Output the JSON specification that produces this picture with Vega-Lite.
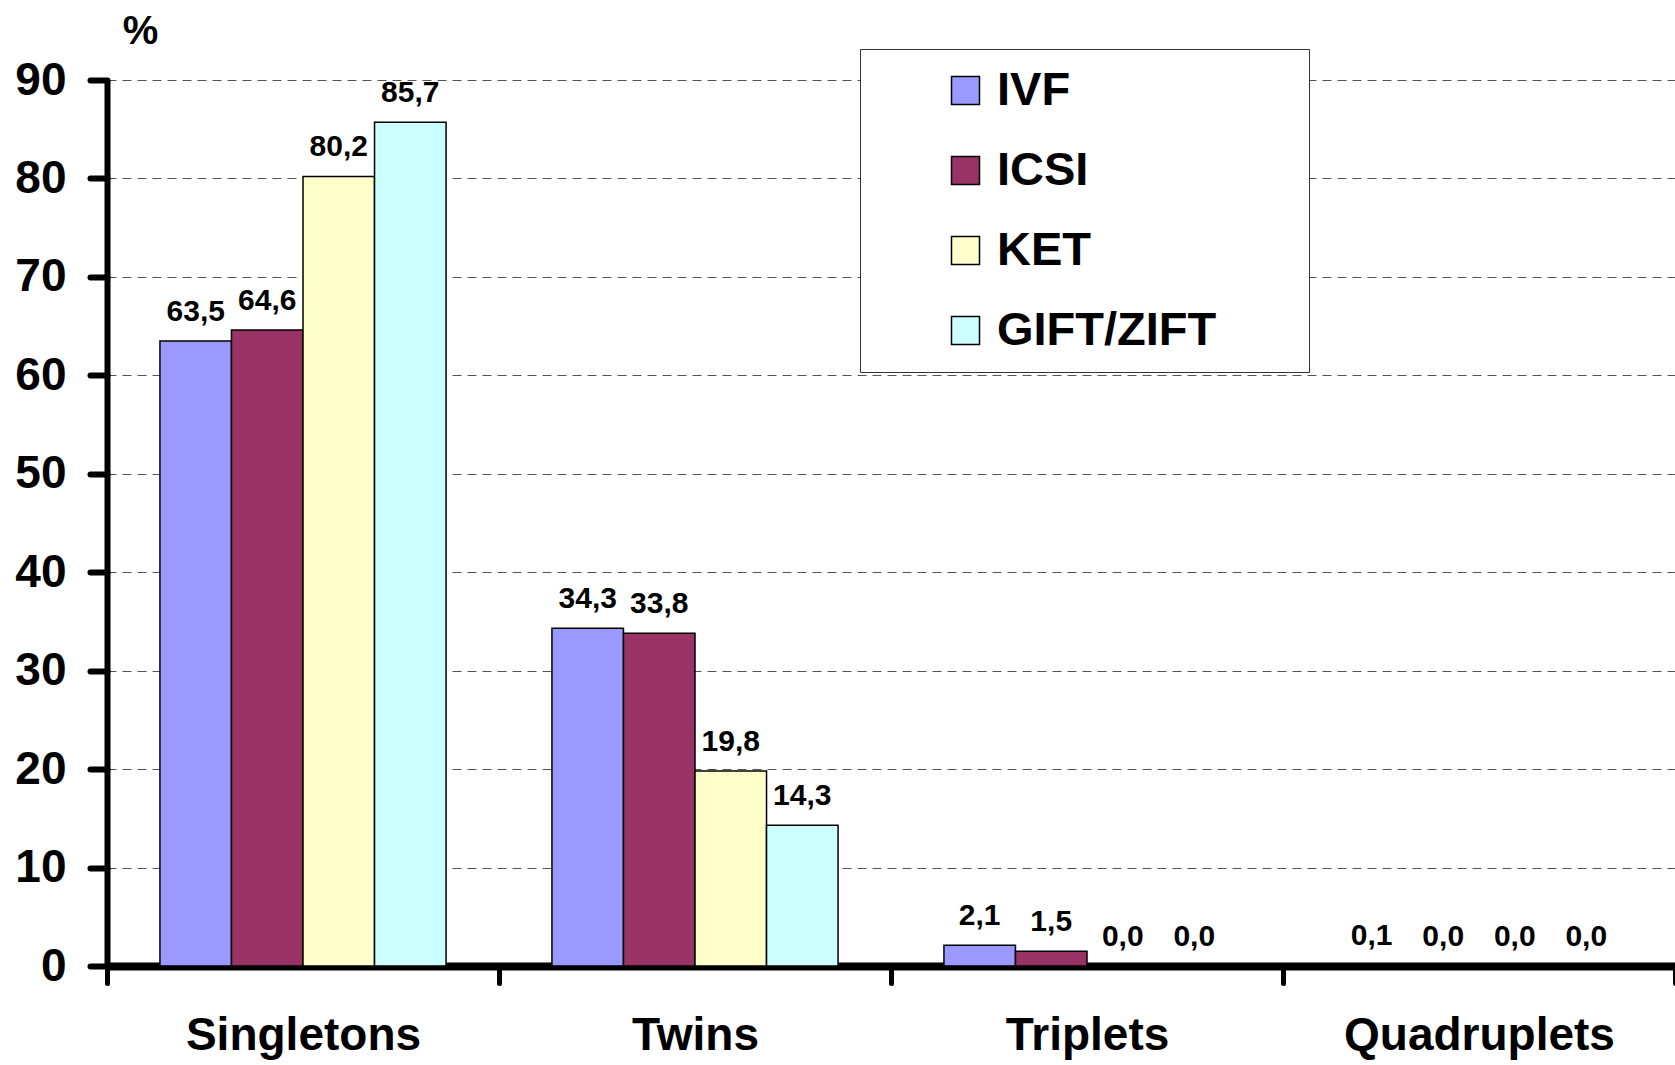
{
  "$schema": "https://vega.github.io/schema/vega-lite/v6.json",
  "width": 1568,
  "height": 886,
  "autosize": {"type": "none"},
  "padding": {"left": 107, "top": 80, "right": 0, "bottom": 99},
  "background": "white",
  "config": {
    "font": "Liberation Sans",
    "view": {"stroke": null},
    "locale": {"number": {"decimal": ",", "thousands": ".", "grouping": [3], "currency": ["", ""]}}
  },
  "data": {
    "values": [
      {"cat": "Singletons", "method": "IVF", "value": 63.5},
      {"cat": "Singletons", "method": "ICSI", "value": 64.6},
      {"cat": "Singletons", "method": "KET", "value": 80.2},
      {"cat": "Singletons", "method": "GIFT/ZIFT", "value": 85.7},
      {"cat": "Twins", "method": "IVF", "value": 34.3},
      {"cat": "Twins", "method": "ICSI", "value": 33.8},
      {"cat": "Twins", "method": "KET", "value": 19.8},
      {"cat": "Twins", "method": "GIFT/ZIFT", "value": 14.3},
      {"cat": "Triplets", "method": "IVF", "value": 2.1},
      {"cat": "Triplets", "method": "ICSI", "value": 1.5},
      {"cat": "Triplets", "method": "KET", "value": 0.0},
      {"cat": "Triplets", "method": "GIFT/ZIFT", "value": 0.0},
      {"cat": "Quadruplets", "method": "IVF", "value": 0.1},
      {"cat": "Quadruplets", "method": "ICSI", "value": 0.0},
      {"cat": "Quadruplets", "method": "KET", "value": 0.0},
      {"cat": "Quadruplets", "method": "GIFT/ZIFT", "value": 0.0}
    ]
  },
  "encoding": {
    "x": {
      "field": "cat", "type": "nominal",
      "sort": ["Singletons", "Twins", "Triplets", "Quadruplets"],
      "scale": {"paddingInner": 0, "paddingOuter": 0},
      "axis": {
        "title": null, "labelAngle": 0, "tickBand": "extent",
        "domainColor": "black", "domainWidth": 8,
        "tickColor": "black", "tickWidth": 5, "tickSize": 17, "tickCap": "round",
        "labelFontSize": 46, "labelFontWeight": "bold", "labelColor": "black",
        "labelPadding": 30, "labelLimit": 600
      }
    },
    "xOffset": {
      "field": "method", "type": "nominal",
      "sort": ["IVF", "ICSI", "KET", "GIFT/ZIFT"],
      "scale": {"paddingInner": 0, "paddingOuter": 0.74}
    },
    "y": {
      "field": "value", "type": "quantitative",
      "scale": {"domain": [0, 90], "nice": false},
      "axis": {
        "values": [0, 10, 20, 30, 40, 50, 60, 70, 80, 90],
        "title": "%", "titleAngle": 0, "titleX": 33, "titleY": -37,
        "titleAlign": "center", "titleBaseline": "alphabetic",
        "titleFontSize": 40, "titleFontWeight": "bold", "titleColor": "black",
        "domainColor": "black", "domainWidth": 6,
        "tickColor": "black", "tickWidth": 6, "tickSize": 17, "tickCap": "round",
        "labelFontSize": 46, "labelFontWeight": "bold", "labelColor": "black",
        "labelPadding": 24,
        "grid": true, "gridColor": "#555555", "gridDash": [9, 6], "gridWidth": 1
      }
    }
  },
  "layer": [
    {
      "mark": {"type": "bar", "stroke": "black", "strokeWidth": 1.5},
      "encoding": {
        "fill": {
          "field": "method", "type": "nominal",
          "sort": ["IVF", "ICSI", "KET", "GIFT/ZIFT"],
          "scale": {"domain": ["IVF", "ICSI", "KET", "GIFT/ZIFT"], "range": ["#9999FF", "#993366", "#FFFFCC", "#CCFFFF"]},
          "legend": {
            "title": ".", "titleOrient": "right", "titleColor": "white", "titleFontSize": 2, "titlePadding": 74,
            "orient": "none", "legendX": 753, "legendY": -31,
            "fillColor": "white", "strokeColor": "#333333",
            "padding": 18, "symbolOffset": 64,
            "symbolType": "square", "symbolSize": 784,
            "symbolStrokeColor": "black", "symbolStrokeWidth": 1.5,
            "labelFontSize": 47, "labelFontWeight": "bold", "labelColor": "black",
            "labelOffset": 8, "rowPadding": 32, "labelLimit": 600
          }
        }
      }
    },
    {
      "mark": {"type": "text", "baseline": "alphabetic", "dy": -20, "fontSize": 30, "fontWeight": "bold", "color": "black"},
      "encoding": {
        "text": {"field": "value", "type": "quantitative", "format": ".1f"}
      }
    }
  ]
}
